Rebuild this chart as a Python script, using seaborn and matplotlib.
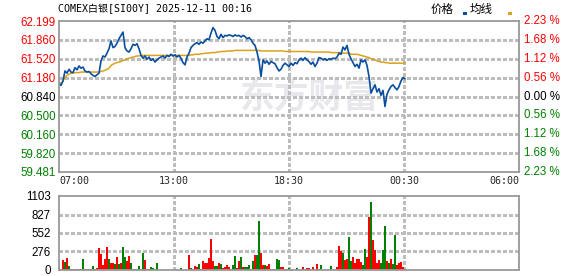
import matplotlib
matplotlib.use("Agg")
import matplotlib.pyplot as plt
from matplotlib.patches import Rectangle
from matplotlib.collections import LineCollection
import numpy as np
import pandas as pd
import seaborn as sns

# ---------------- data ----------------
title = "COMEX白银[SI00Y] 2025-12-11 00:16"
legend_price = "价格"
legend_avg = "均线"
watermark = "东方财富"
time_labels = ["07:00", "13:00", "18:30", "00:30", "06:00"]
prev_close = 60.84
price_ticks = [62.199, 61.860, 61.520, 61.180, 60.840, 60.500, 60.160, 59.820, 59.481]
pct_labels = ["2.23", "1.68", "1.12", "0.56", "0.00", "0.56", "1.12", "1.68", "2.23"]
vol_ticks = [0, 276, 552, 827, 1103]
n_slots = 230  # full session width in sample slots

price = [
    61.08, 61.04, 61.12, 61.30, 61.26, 61.33, 61.28, 61.27, 61.36, 61.32,
    61.39, 61.35, 61.37, 61.30, 61.28, 61.29, 61.25, 61.22, 61.20, 61.23,
    61.26, 61.48, 61.57, 61.55, 61.62, 61.70, 61.84, 61.72, 61.74, 61.80,
    61.88, 61.94, 62.00, 61.72, 61.66, 61.64, 61.70, 61.78, 61.76, 61.79,
    61.70, 61.58, 61.53, 61.57, 61.51, 61.55, 61.49, 61.52, 61.46, 61.50,
    61.53, 61.55, 61.57, 61.53, 61.58, 61.56, 61.60, 61.57, 61.59, 61.55,
    61.58, 61.53, 61.45, 61.41, 61.55, 61.62, 61.72, 61.76, 61.79, 61.81,
    61.78, 61.82, 61.80, 61.84, 61.88, 61.86, 61.98, 62.08, 62.03, 61.92,
    61.88, 61.96, 61.90, 61.94, 61.93, 61.95, 61.94, 61.92, 61.95, 61.93,
    61.94, 61.91, 61.94, 61.92, 61.88, 61.90, 61.86, 61.80, 61.76, 61.64,
    61.48, 61.20, 61.50, 61.44, 61.48, 61.42, 61.47, 61.45, 61.43, 61.36,
    61.30, 61.33, 61.40, 61.44, 61.41, 61.38, 61.44, 61.40, 61.45, 61.43,
    61.50, 61.53, 61.49, 61.54, 61.50, 61.47, 61.42, 61.46, 61.38, 61.44,
    61.54, 61.53, 61.50, 61.52, 61.49, 61.52, 61.51, 61.53, 61.52, 61.55,
    61.62, 61.60, 61.73, 61.68, 61.76, 61.60, 61.52, 61.45, 61.38, 61.42,
    61.35, 61.50, 61.46, 61.50, 61.40, 61.20, 60.90, 60.98, 61.05, 60.92,
    60.98, 60.86, 60.95, 60.66, 60.88, 60.96, 61.02, 61.05, 61.00, 60.96,
    61.02, 61.12, 61.18, 61.16,
]

avg = [
    61.08, 61.08, 61.12, 61.18, 61.22, 61.24,
    61.26, 61.26, 61.27, 61.27, 61.27, 61.28, 61.28, 61.28, 61.28, 61.28,
    61.28, 61.28, 61.28, 61.28, 61.28,
    61.29, 61.30, 61.31, 61.33, 61.35,
    61.40, 61.42, 61.44, 61.45, 61.46, 61.47, 61.49, 61.50,
    61.52, 61.53, 61.54, 61.55, 61.56, 61.57, 61.57, 61.58, 61.58, 61.58,
    61.58, 61.58, 61.58, 61.58, 61.58, 61.58, 61.58, 61.58, 61.58, 61.58, 61.58,
    61.58, 61.58, 61.58, 61.58, 61.58, 61.58, 61.58, 61.58, 61.58, 61.58, 61.58,
    61.59, 61.59, 61.60, 61.60, 61.60, 61.61, 61.61, 61.62, 61.62, 61.62, 61.63,
    61.63, 61.63, 61.64, 61.64, 61.65, 61.65, 61.65, 61.66, 61.66, 61.66, 61.66,
    61.67, 61.67, 61.67, 61.67, 61.67, 61.67, 61.67, 61.67, 61.67, 61.67, 61.67,
    61.67, 61.67,
    61.66, 61.66, 61.66, 61.66, 61.66, 61.66, 61.66, 61.66, 61.66, 61.66, 61.66, 61.66,
    61.65, 61.65, 61.65, 61.65, 61.65, 61.65, 61.65, 61.65, 61.65, 61.65, 61.65, 61.65, 61.65,
    61.64, 61.64, 61.64, 61.64, 61.64, 61.64, 61.64, 61.64, 61.64, 61.64,
    61.63, 61.63, 61.63, 61.63, 61.63, 61.63,
    61.62, 61.62, 61.62, 61.62,
    61.60, 61.60, 61.60, 61.60,
    61.59, 61.58, 61.57, 61.56, 61.55, 61.54, 61.52, 61.51, 61.50, 61.48, 61.47, 61.46,
    61.46, 61.45, 61.45, 61.44, 61.44, 61.44, 61.44, 61.44, 61.44, 61.44, 61.44, 61.44,
]

volume = [
    55, 20, 144, 120, 174, 55, 8, 8, 20, 8,
    20, 8, 159, 8, 8, 8, 8, 55, 8, 30,
    328, 239, 80, 159, 338, 169, 100, 100, 85, 189,
    85, 100, 338, 199, 129, 204, 109, 15, 10, 12,
    55, 20, 249, 144, 15, 8, 45, 30, 8, 100,
    5, 5, 5, 5, 5, 5, 5, 5, 5, 5,
    5, 35, 5, 5, 5, 219, 35, 10, 65, 50,
    95, 20, 129, 100, 105, 174, 462, 129, 55, 55,
    100, 85, 30, 40, 70, 45, 10, 70, 204, 30,
    129, 189, 40, 50, 45, 80, 20, 129, 219, 229,
    726, 253, 80, 70, 55, 90, 10, 15, 20, 164,
    149, 45, 45, 15, 20, 35, 5, 5, 5, 35,
    5, 5, 45, 5, 35, 35, 5, 45, 5, 85,
    10, 70, 5, 5, 5, 5, 55, 5, 5, 45,
    353, 283, 249, 144, 164, 487, 139, 189, 99, 164,
    159, 119, 80, 308, 189, 790, 1014, 442, 293, 104,
    154, 109, 293, 651, 129, 100, 169, 90, 517, 70,
    100, 114, 45, 15,
]
vol_dir = ("grrgrgrrrr" "grgrrrrgrr" "rrrrrgrrgr" "grggrrggrg" "grgrrrggrg"
           "rrrrrrrrrr" "ggrrrrgrrr" "grrrrrrrgg" "rgrrrrrggr" "rgrgggrgrg"
           "grrgrrrgrg" "grrgrgrrrg" "rrrrrrrrrr" "ggrrrrgrrr" "rrgrrggrrr"
           "rrggrrgrrr" "rgggrgrggr" "rrrg")

# ---------------- style ----------------
sns.set_theme(style="white")
plt.rcParams["font.family"] = ["Liberation Sans", "Noto Sans CJK SC"]

BLUE = "#0a4e9e"
ORANGE = "#d9a21e"
RED = "#ff0000"
GREEN = "#008000"
GRID = "#bdbdbd"
FRAME = "#999999"

W, H = 578, 276
fig = plt.figure(figsize=(W / 100, H / 100), dpi=100)
fig.patch.set_facecolor("white")

ax = fig.add_axes([59 / W, 1 - 172 / H, 460 / W, 151 / H])
axv = fig.add_axes([59 / W, 1 - 270 / H, 460 / W, 74 / H])

slots = np.arange(len(price))
df = pd.DataFrame({"slot": slots, "price": price, "avg": avg})

xt = [0, n_slots / 4, n_slots / 2, 3 * n_slots / 4, n_slots]

# watermark behind the lines
ax.text(309 / W, 1 - 97 / H, watermark, transform=fig.transFigure,
        ha="center", va="center", fontsize=25, fontweight="bold",
        color="#e8e8ec", family=["Noto Sans CJK SC"], zorder=0.5)


def dashed_grid(a, xs, ys, wpx, hpx, dash=3, gap=3):
    """Dashed grid built from short solid segments (axes-fraction units)."""
    xtr = a.get_xaxis_transform()   # x data, y axes
    ytr = a.get_yaxis_transform()   # x axes, y data
    starts = np.arange(0, 1, (dash + gap) / hpx)
    vsegs = [[(x, s), (x, min(s + dash / hpx, 1))] for x in xs for s in starts]
    startx = np.arange(0, 1, (dash + gap) / wpx)
    hsegs = [[(s, y), (min(s + dash / wpx, 1), y)] for y in ys for s in startx]
    for segs, tr in ((vsegs, xtr), (hsegs, ytr)):
        lc = LineCollection(segs, colors=GRID, linewidths=1.0,
                            transform=tr, zorder=2, antialiaseds=False)
        lc.set_snap(True)
        a.add_collection(lc)


sns.lineplot(data=df, x="slot", y="avg", color=ORANGE, lw=1.1, ax=ax,
             zorder=3, sort=False, estimator=None)
sns.lineplot(data=df, x="slot", y="price", color=BLUE, lw=1.2, ax=ax,
             zorder=4, sort=False, estimator=None)

df_vol = pd.DataFrame({"slot": slots, "vol": volume, "dir": list(vol_dir)})
sns.barplot(data=df_vol, x="slot", y="vol", hue="dir",
            palette={"r": RED, "g": GREEN}, native_scale=True, dodge=False,
            width=0.7, errorbar=None, legend=False, saturation=1,
            linewidth=0, ax=axv, zorder=3)

for a, yt in ((ax, price_ticks), (axv, vol_ticks)):
    a.set_facecolor("none")
    a.set_xlim(0, n_slots)
    a.set_xticks(xt)
    a.set_yticks(yt)
    a.set_xlabel("")
    a.set_ylabel("")
    a.tick_params(length=0)
    for s in a.spines.values():
        s.set_color(FRAME)
        s.set_linewidth(1.3)
        s.set_zorder(5)

ax.set_ylim(price_ticks[-1], price_ticks[0])
axv.set_ylim(0, vol_ticks[-1])

dashed_grid(ax, xt[1:-1], price_ticks[1:-1], 460, 151)
dashed_grid(axv, xt[1:-1], vol_ticks[1:-1], 460, 74)

# price axis labels
ax.set_yticklabels([f"{v:.3f}" for v in price_ticks], fontsize=8.3)
ax.tick_params(axis="y", pad=2.3)

def col(v):
    if abs(v - prev_close) < 1e-6:
        return "black"
    return RED if v > prev_close else GREEN

for lab, v in zip(ax.get_yticklabels(), price_ticks):
    lab.set_color(col(v))

ytr = ax.get_yaxis_transform()
for v, p in zip(price_ticks, pct_labels):
    ax.text(1 + 5 / 460, v, f"{p} %", transform=ytr, ha="left", va="center",
            fontsize=8.3, color=col(v))

ax.set_xticklabels(time_labels, family="DejaVu Sans Mono", fontsize=7.2)
ax.tick_params(axis="x", pad=3)
xl = ax.get_xticklabels()
xl[0].set_ha("left")
xl[-1].set_ha("right")

# volume axis labels
axv.set_yticklabels([str(v) for v in vol_ticks], fontsize=8.3, color="black")
axv.tick_params(axis="y", pad=6)
axv.set_xticklabels([])

# title and legend
fig.text(58 / W, 1 - 9 / H, title, ha="left", va="center", fontsize=7.2,
         family=["DejaVu Sans Mono", "Noto Sans CJK SC"], color="black")
fig.text(431 / W, 1 - 9 / H, legend_price, ha="left", va="center", fontsize=8.3,
         family=["Noto Sans CJK SC"], color="black")
fig.text(470 / W, 1 - 9 / H, legend_avg, ha="left", va="center", fontsize=8.3,
         family=["Noto Sans CJK SC"], color="black")
fig.add_artist(Rectangle((463 / W, 1 - 15 / H), 4 / W, 3 / H,
                         transform=fig.transFigure, color=BLUE, lw=0))
fig.add_artist(Rectangle((508 / W, 1 - 15 / H), 4 / W, 3 / H,
                         transform=fig.transFigure, color=ORANGE, lw=0))

fig.savefig("out.png", dpi=100, facecolor="white")
